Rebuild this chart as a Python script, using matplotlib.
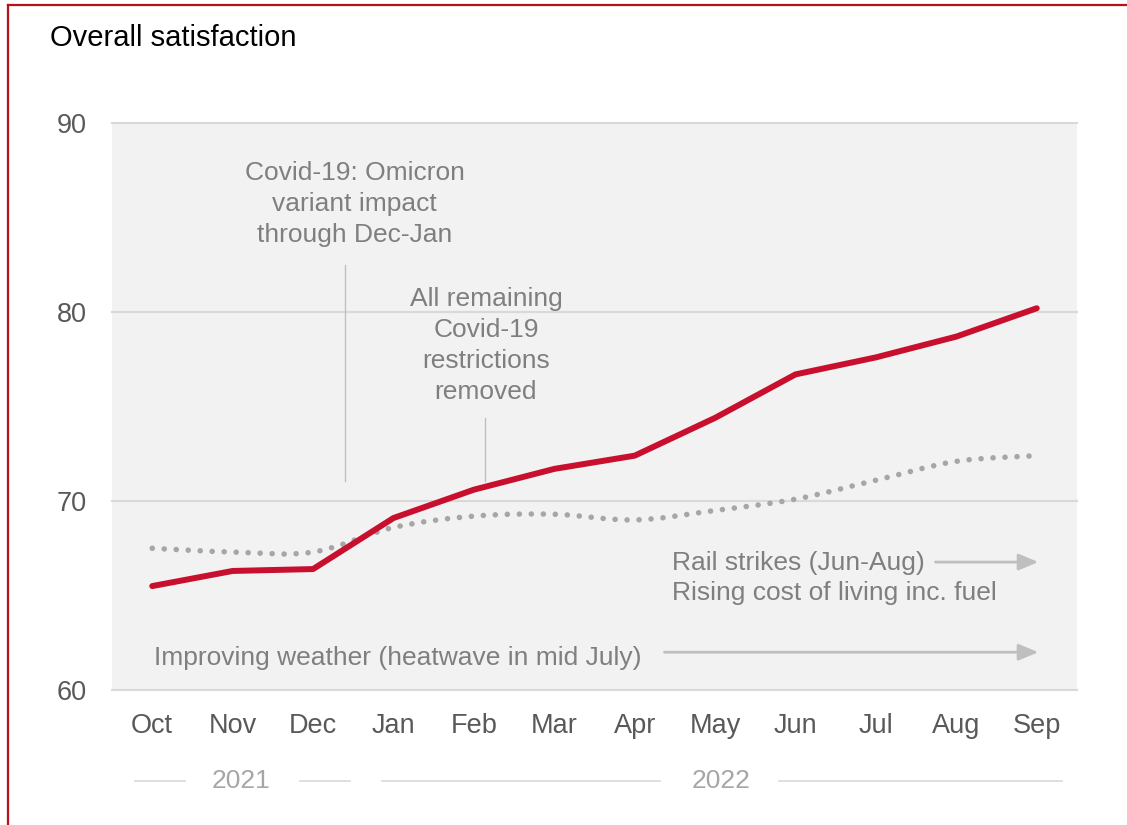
import matplotlib
matplotlib.use("Agg")
import matplotlib.pyplot as plt
from matplotlib.path import Path
from matplotlib.patches import PathPatch
from matplotlib.lines import Line2D

plt.rcParams['font.family'] = ['Liberation Sans', 'DejaVu Sans']

# ---- data ----
months = ["Oct", "Nov", "Dec", "Jan", "Feb", "Mar", "Apr", "May", "Jun", "Jul", "Aug", "Sep"]
satisfaction = [65.5, 66.3, 66.4, 69.1, 70.6, 71.7, 72.4, 74.4, 76.7, 77.6, 78.7, 80.2]
comparison = [67.5, 67.3, 67.3, 68.6, 69.2, 69.3, 69.0, 69.5, 70.1, 71.1, 72.1, 72.4]
y_ticks = [60, 70, 80, 90]
years = ["2021", "2022"]

RED = "#c8102e"
DOT = "#a6a6a6"
GRID = "#d9d9d9"
TXT = "#7f7f7f"
TICK = "#595959"
FS = 19

fig = plt.figure(figsize=(11.27, 8.25), dpi=100)
ax = fig.add_axes([0.0994, 0.1636, 0.8562, 0.6873])
ax.set_facecolor("#f2f2f2")
ax.set_xlim(-0.5, 11.5)
ax.set_ylim(60, 90)

x = list(range(len(months)))

# grid
for v in y_ticks:
    ax.axhline(v, color=GRID, lw=1.5, zorder=1, clip_on=False)

for s in ax.spines.values():
    s.set_visible(False)

# smoothed comparison line (Catmull-Rom as cubic Bezier segments)
verts = [(x[0], comparison[0])]
codes = [Path.MOVETO]
n = len(x)
for i in range(n - 1):
    p0 = (x[max(i - 1, 0)], comparison[max(i - 1, 0)])
    p1 = (x[i], comparison[i])
    p2 = (x[i + 1], comparison[i + 1])
    p3 = (x[min(i + 2, n - 1)], comparison[min(i + 2, n - 1)])
    c1 = (p1[0] + (p2[0] - p0[0]) / 6, p1[1] + (p2[1] - p0[1]) / 6)
    c2 = (p2[0] - (p3[0] - p1[0]) / 6, p2[1] - (p3[1] - p1[1]) / 6)
    verts += [c1, c2, p2]
    codes += [Path.CURVE4] * 3
patch = PathPatch(Path(verts, codes), fill=False, edgecolor=DOT, lw=4.0,
                  linestyle=(0, (0.01, 2.15)), capstyle="round", zorder=3)
ax.add_patch(patch)

ax.plot(x, satisfaction, color=RED, lw=4.3, solid_capstyle="round",
        solid_joinstyle="round", zorder=4)

# ticks
ax.set_xticks(x)
ax.set_xticklabels(months)
ax.set_yticks(y_ticks)
ax.tick_params(axis="x", length=0, pad=16.5, labelsize=19.5, labelcolor=TICK)
ax.tick_params(axis="y", length=0, pad=18, labelsize=19.5, labelcolor=TICK)

# annotations
ax.text(2.52, 85.7, "Covid-19: Omicron\nvariant impact\nthrough Dec-Jan", ha="center", va="center",
        fontsize=FS, color=TXT, linespacing=1.37)
ax.plot([2.40, 2.40], [71.06, 82.5], color="#bfbfbf", lw=1.0, zorder=2)
ax.text(4.15, 78.25, "All remaining\nCovid-19\nrestrictions\nremoved", ha="center", va="center",
        fontsize=FS, color=TXT, linespacing=1.37)
ax.plot([4.14, 4.14], [71.06, 74.4], color="#bfbfbf", lw=1.0, zorder=2)

ax.text(6.47, 66.72, "Rail strikes (Jun-Aug)", ha="left", va="center", fontsize=FS, color=TXT)
ax.text(6.47, 65.14, "Rising cost of living inc. fuel", ha="left", va="center", fontsize=FS, color=TXT)
ax.text(0.02, 61.72, "Improving weather (heatwave in mid July)", ha="left", va="center",
        fontsize=FS, color=TXT)

arrow_kw = dict(arrowstyle="-|>,head_length=1.2,head_width=0.5", color="#bfbfbf", lw=2.0,
                shrinkA=0, shrinkB=0)
ax.annotate("", xy=(11.02, 66.77), xytext=(9.74, 66.77), arrowprops=arrow_kw)
ax.annotate("", xy=(11.02, 62.0), xytext=(6.37, 62.0), arrowprops=arrow_kw)

# year brackets below the month labels
yb = 1 - 781 / 825
for (a, b) in [(135, 185), (300, 350), (382, 660), (779, 1062)]:
    fig.add_artist(Line2D([a / 1127, b / 1127], [yb, yb], color=GRID, lw=1.2))
fig.text(241 / 1127, yb, years[0], ha="center", va="center", fontsize=FS, color=DOT)
fig.text(721 / 1127, yb, years[1], ha="center", va="center", fontsize=FS, color=DOT)

# title
fig.text(50 / 1127, 1 - 38 / 825, "Overall satisfaction", ha="left", va="center",
         fontsize=21, color="black")

# frame on the top and left edges
BORDER = "#b5121b"
fig.add_artist(Line2D([8 / 1127, 1.0], [1 - 5 / 825, 1 - 5 / 825], color=BORDER, lw=1.6))
fig.add_artist(Line2D([8 / 1127, 8 / 1127], [0.0, 1 - 5 / 825], color=BORDER, lw=1.6))

fig.savefig("out.png", dpi=100, facecolor="white")
